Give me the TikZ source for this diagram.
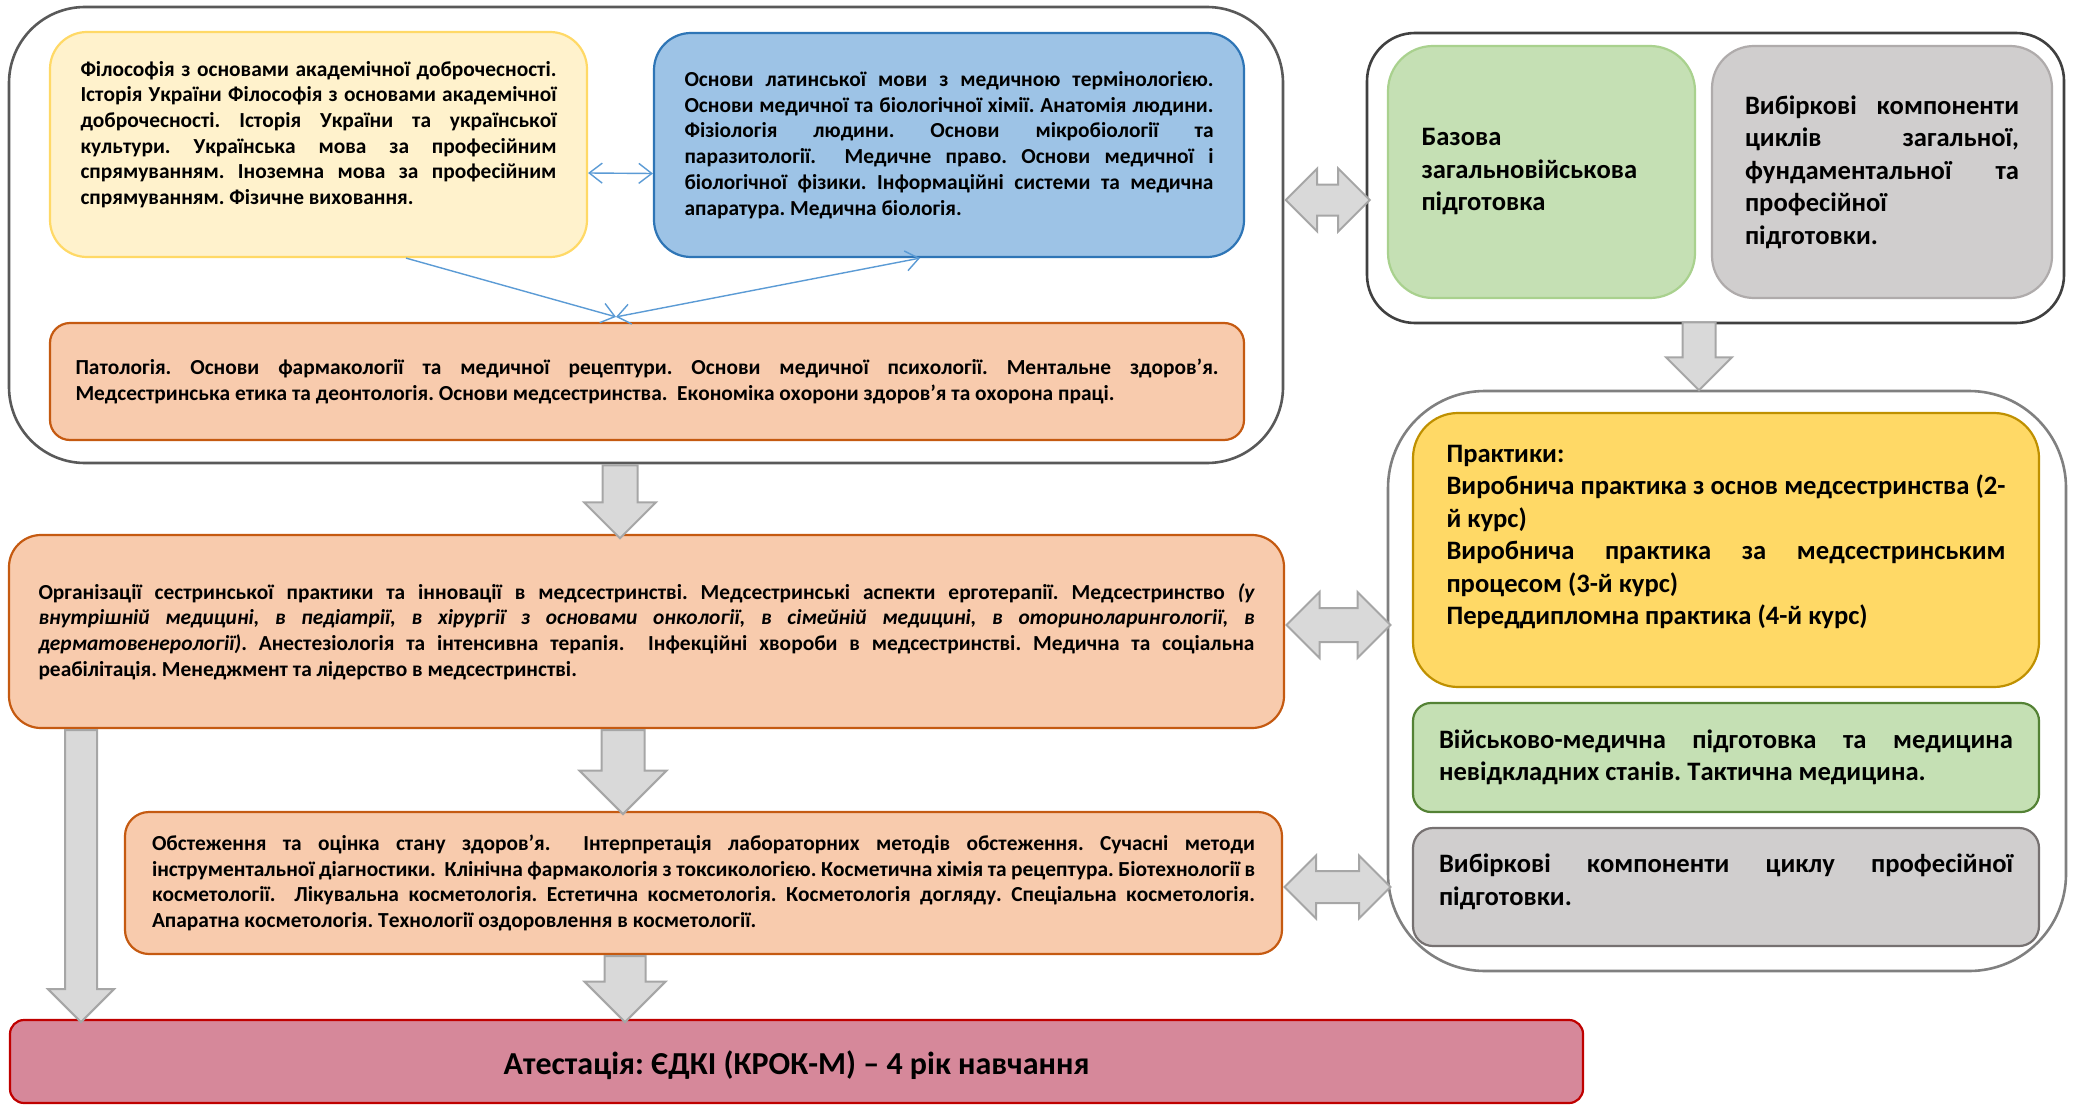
\documentclass[tikz,border=0pt]{standalone}
\usepackage{fontspec}
\setmainfont{Carlito}[Kerning=Off]
\usetikzlibrary{shapes.arrows,arrows.meta}

\definecolor{yellowfill}{HTML}{FFF2CC}
\definecolor{yellowline}{HTML}{FFD966}
\definecolor{bluefill}{HTML}{9DC3E6}
\definecolor{blueline}{HTML}{2E75B6}
\definecolor{orangefill}{HTML}{F8CBAD}
\definecolor{orangeline}{HTML}{C55A11}
\definecolor{greenfill}{HTML}{C5E0B4}
\definecolor{greenline}{HTML}{A9D18E}
\definecolor{greendark}{HTML}{548235}
\definecolor{greyfill}{HTML}{D0CECE}
\definecolor{greyline}{HTML}{AFABAB}
\definecolor{greydark}{HTML}{767171}
\definecolor{goldfill}{HTML}{FFD966}
\definecolor{goldline}{HTML}{BF9000}
\definecolor{pinkfill}{HTML}{D6889A}
\definecolor{pinkline}{HTML}{C00000}
\definecolor{arfill}{HTML}{D9D9D9}
\definecolor{arline}{HTML}{A6A6A6}
\definecolor{linkblue}{HTML}{5B9BD5}
\definecolor{frameA}{HTML}{595959}
\definecolor{frameB}{HTML}{404040}
\definecolor{frameC}{HTML}{808080}

\setlength{\parindent}{0pt}
\frenchspacing
\hyphenpenalty=10000
\exhyphenpenalty=10000

\begin{document}
\begin{tikzpicture}[x=1pt,y=-1pt,
  card/.style={draw, rounded corners=#1, line width=2.2pt, inner sep=0pt, align=justify,
    font=\bfseries\fontsize{21.4}{25.7}\selectfont},
  bigtext/.style={font=\bfseries\fontsize{26.6}{32.5}\selectfont},
  outer/.style={draw, fill=white, rounded corners=#1, line width=2.6pt},
  downblk/.style={single arrow, shape border rotate=270, anchor=tail, draw=arline,
    fill=arfill, line width=2pt, single arrow head extend=#1},
  sideblk/.style={double arrow, anchor=west, draw=arline, fill=arfill, line width=2pt,
    double arrow head extend=#1},
  linkline/.style={draw=linkblue, line width=1.4pt, >={Straight Barb[length=13pt,width=20pt]}}
]
\useasboundingbox (0,0) rectangle (2076,1105);

% frames
\node[outer=76pt, draw=frameA, minimum width=1274pt, minimum height=456pt] (core) at (646,235) {};
\node[outer=48pt, draw=frameB, minimum width=697pt, minimum height=290pt] (side) at (1715.5,178) {};
\node[outer=97pt, draw=frameC, minimum width=678pt, minimum height=580pt] (practbox) at (1727,681) {};

% first block
\node[card=37pt, draw=yellowline, fill=yellowfill, minimum width=537pt, minimum height=225pt,
  text width=476pt] (phil) at (318.5,144.5)
  {Філософія з основами академічної доброчесності.\linebreak
   Історія України Філософія з основами академічної\linebreak
   доброчесності. Історія України та української\linebreak
   культури. Українська мова за професійним\linebreak
   спрямуванням. Іноземна мова за професійним\linebreak
   спрямуванням. Фізичне виховання.\\[-10pt]\strut};
\node[card=37pt, draw=blueline, fill=bluefill, minimum width=590pt, minimum height=224pt,
  text width=529pt] (latin) at (949,145)
  {Основи латинської мови з медичною термінологією.\linebreak
   Основи медичної та біологічної хімії. Анатомія людини.\linebreak
   Фізіологія людини. Основи мікробіології та\linebreak
   паразитології.\ \ Медичне право. Основи медичної і\linebreak
   біологічної фізики. Інформаційні системи та медична\linebreak
   апаратура. Медична біологія.};
\node[card=20pt, draw=orangeline, fill=orangefill, minimum width=1194pt, minimum height=117pt,
  text width=1143pt] (patho) at (647,381.5)
  {Патологія. Основи фармакології та медичної рецептури. Основи медичної психології. Ментальне здоров’я.\linebreak
   Медсестринська етика та деонтологія. Основи медсестринства.\ \ Економіка охорони здоров’я та охорона праці.};

% second and third blocks
\node[card=32pt, draw=orangeline, fill=orangefill, minimum width=1275pt, minimum height=193pt,
  text width=1216pt] (nursing) at (646.5,631.5)
  {Організації сестринської практики та інновації в медсестринстві. Медсестринські аспекти ерготерапії. Медсестринство \textit{(у\linebreak
   внутрішній медицині, в педіатрії, в хірургії з основами онкології, в сімейній медицині, в оториноларингології, в\linebreak
   дерматовенерології)}. Анестезіологія та інтенсивна терапія.\ \ Інфекційні хвороби в медсестринстві. Медична та соціальна\linebreak
   реабілітація. Менеджмент та лідерство в медсестринстві.};
\node[card=24pt, draw=orangeline, fill=orangefill, minimum width=1157pt, minimum height=142pt,
  text width=1103pt] (cosmet) at (703.5,883)
  {Обстеження та оцінка стану здоров’я.\ \ Інтерпретація лабораторних методів обстеження. Сучасні методи\linebreak
   інструментальної діагностики.\ \ Клінічна фармакологія з токсикологією. Косметична хімія та рецептура. Біотехнології в\linebreak
   косметології.\ \ Лікувальна косметологія. Естетична косметологія. Косметологія догляду. Спеціальна косметологія.\linebreak
   Апаратна косметологія. Технології оздоровлення в косметології.};
\node[card=14pt, draw=pinkline, fill=pinkfill, minimum width=1573pt, minimum height=83pt,
  align=center, text height=28pt, text depth=2pt,
  font=\bfseries\fontsize{32}{38}\selectfont] (attest) at (796.5,1061.5)
  {Атестація: ЄДКІ (КРОК-М) – 4 рік навчання};

% right column
\node[card=45pt, bigtext, draw=greenline, fill=greenfill, minimum width=307pt, minimum height=252pt,
  text width=240pt, align=left] (basemil) at (1541.5,172)
  {Базова\\загальновійськова\\підготовка};
\node[card=42pt, bigtext, draw=greyline, fill=greyfill, minimum width=340pt, minimum height=252pt,
  text width=274pt] (elect) at (1882,172)
  {Вибіркові компоненти\linebreak циклів загальної,\linebreak фундаментальної та\linebreak
   професійної\linebreak підготовки.};
\node[card=45pt, bigtext, draw=goldline, fill=goldfill, minimum width=626pt, minimum height=274pt,
  text width=559pt] (practice) at (1726,550)
  {Практики:\\
   Виробнича практика з основ медсестринства (2-\linebreak й курс)\\
   Виробнича практика за медсестринським\linebreak процесом (3-й курс)\\
   Переддипломна практика (4-й курс)\\[-12pt]\strut};
\node[card=18pt, bigtext, draw=greendark, fill=greenfill, minimum width=626pt, minimum height=109pt,
  text width=574pt] (milmed) at (1726,757.5)
  {Військово-медична підготовка та медицина\linebreak невідкладних станів. Тактична медицина.};
\node[card=20pt, bigtext, draw=greydark, fill=greyfill, minimum width=626pt, minimum height=118pt,
  text width=574pt] (electprof) at (1726,887)
  {Вибіркові компоненти циклу професійної\linebreak підготовки.\\[-28pt]\strut};

% block arrows (half shaft = inner sep)
\foreach \nm/\from/\dx/\dy/\len/\sh/\ext in {a1/core/-26/0/73/16.5/18.5, a2/nursing/-23.5/0/84/20.5/22,
    a3/cosmet/-78.5/0/66/19.5/20, a4/nursing/-565.5/0/292/15/17, a5/side/-16.5/3/68/15.5/16.5}
  \node[downblk=\ext pt, minimum height=\len pt, inner sep=\sh pt] (\nm)
    at ([xshift=\dx pt, yshift=\dy pt]\from.south) {};
\foreach \nm/\from/\dy/\len/\sh/\ext in {d1/core/35/84/14.5/16, d2/nursing/6.5/104/16/16,
    d3/cosmet/-4/106/15/15.5}
  \node[sideblk=\ext pt, minimum height=\len pt, inner sep=\sh pt] (\nm)
    at ([yshift=\dy pt]\from.east) {};

% thin links
\coordinate (meet) at ([xshift=-31pt, yshift=5pt]patho.north);
\draw[linkline, <->] ([yshift=-28.5pt]phil.east) -- ([yshift=-28.5pt]latin.west);
\draw[linkline, ->] ([xshift=87.5pt]phil.south) -- (meet);
\draw[linkline, <->] (meet) -- ([xshift=-29pt]latin.south);
\end{tikzpicture}
\end{document}
